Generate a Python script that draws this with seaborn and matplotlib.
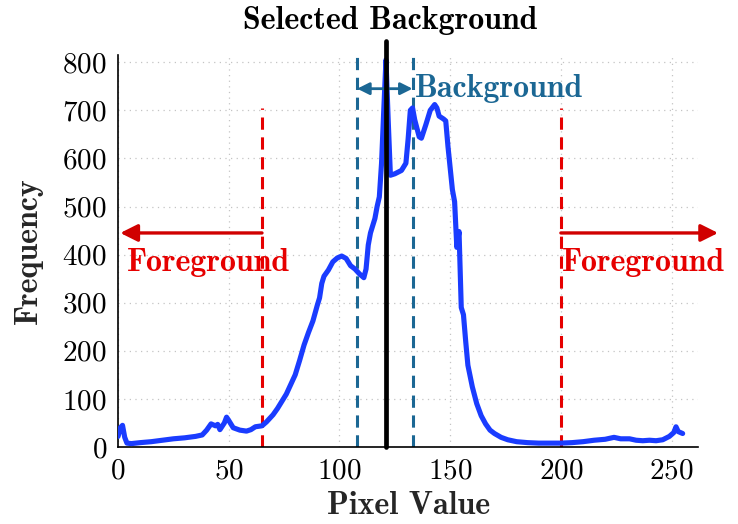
import matplotlib
matplotlib.use("Agg")
import matplotlib.pyplot as plt
import seaborn as sns
import pandas as pd

# ---- data ----
pixel_value = [0, 1, 2, 3, 4, 6, 10, 15, 20, 25, 30, 35, 38, 40, 42, 44, 45, 46, 48, 49,
               50, 52, 55, 58, 60, 62, 65, 67, 70, 72, 74, 76, 78, 80, 82, 84, 86, 88, 90, 91,
               92, 93, 95, 97, 99, 101, 103, 105, 107, 109, 111, 112, 113, 114, 116, 117, 118, 119, 120, 121,
               122, 123, 125, 128, 130, 131, 132, 133, 134, 136, 137, 139, 141, 143, 144, 145, 147, 148, 149, 150,
               151, 152, 153, 154, 155, 156, 157, 158, 160, 162, 164, 166, 168, 170, 173, 176, 180, 185, 190, 195,
               200, 205, 210, 215, 220, 224, 227, 231, 234, 237, 240, 243, 246, 249, 251, 252, 253, 255]
frequency = [22, 40, 45, 20, 8, 7, 9, 11, 14, 17, 19, 22, 25, 35, 48, 44, 47, 36, 50, 62,
             55, 40, 35, 33, 36, 42, 44, 52, 67, 80, 95, 110, 130, 150, 180, 212, 238, 262, 295, 310,
             340, 355, 368, 385, 393, 397, 392, 377, 370, 360, 352, 370, 420, 445, 475, 500, 520, 590, 700, 805,
             680, 565, 568, 575, 590, 640, 700, 705, 680, 645, 642, 670, 700, 712, 705, 688, 682, 678, 625, 580,
             535, 510, 415, 448, 290, 275, 220, 170, 125, 90, 65, 48, 35, 28, 20, 15, 11, 9, 8, 8,
             8, 9, 11, 14, 16, 20, 17, 17, 14, 13, 14, 13, 15, 22, 30, 42, 32, 28]

fg_low, fg_high = 65, 200          # foreground thresholds
bg_low, bg_high = 108, 133         # background band
selected = 121                     # selected background value
fg_arrow_left, fg_arrow_right = 1, 271
fg_arrow_y, bg_arrow_y = 445, 745
fg_line_top = 705
x_ticks = [0, 50, 100, 150, 200, 250]
y_ticks = [0, 100, 200, 300, 400, 500, 600, 700, 800]

df = pd.DataFrame({"Pixel Value": pixel_value, "Frequency": frequency})

sns.set_style("white")
plt.rcParams["font.family"] = ["cmr10", "DejaVu Serif"]
plt.rcParams["axes.formatter.use_mathtext"] = True

RED = "#e60000"
RED_ARROW = "#d00000"
TEAL = "#1b6794"
BLUE = "#1a3cff"
BOLD = "cmb10"
BSIZE = 23

fig = plt.figure(figsize=(7.38, 5.24), dpi=100)
ax = fig.add_axes([0.16, 0.147, 0.786, 0.748])

sns.lineplot(data=df, x="Pixel Value", y="Frequency", ax=ax, color=BLUE, lw=3.7,
             zorder=3, solid_joinstyle="round")

ax.set_xlim(0, 262)
ax.set_ylim(0, 815)
ax.set_xticks(x_ticks)
ax.set_yticks(y_ticks)
ax.grid(True, linestyle=(0, (1, 3.5)), color="#c4c4c4", lw=0.9)
for s in ["top", "right"]:
    ax.spines[s].set_visible(False)
for s in ["left", "bottom"]:
    ax.spines[s].set_color("black")
    ax.spines[s].set_linewidth(1.2)
ax.tick_params(direction="in", length=6, width=1, labelsize=21, pad=8, colors="black")

ax.set_xlabel("Pixel Value", fontfamily=BOLD, fontsize=BSIZE, labelpad=5)
ax.set_ylabel("Frequency", fontfamily=BOLD, fontsize=BSIZE, labelpad=14)

# foreground threshold lines
ax.plot([fg_low, fg_low], [0, fg_line_top], color=RED, lw=2.2, ls=(0, (4, 2.5)), zorder=2)
ax.plot([fg_high, fg_high], [0, fg_line_top], color=RED, lw=2.2, ls=(0, (4, 2.5)), zorder=2)
# background band lines
ax.plot([bg_low, bg_low], [0, 815], color=TEAL, lw=2.2, ls=(0, (4, 2.5)), zorder=2)
ax.plot([bg_high, bg_high], [0, 815], color=TEAL, lw=2.2, ls=(0, (4, 2.5)), zorder=2)
# selected background line
ax.plot([selected, selected], [0, 845], color="black", lw=3.4, zorder=4, clip_on=False)

# arrows
ax.annotate("", xy=(fg_arrow_left, fg_arrow_y), xytext=(fg_low, fg_arrow_y),
            arrowprops=dict(arrowstyle="-|>", color=RED_ARROW, lw=2.4, mutation_scale=26,
                            shrinkA=0, shrinkB=0), annotation_clip=False)
ax.annotate("", xy=(fg_arrow_right, fg_arrow_y), xytext=(fg_high, fg_arrow_y),
            arrowprops=dict(arrowstyle="-|>", color=RED_ARROW, lw=2.4, mutation_scale=26,
                            shrinkA=0, shrinkB=0), annotation_clip=False)
ax.annotate("", xy=(bg_low, bg_arrow_y), xytext=(bg_high, bg_arrow_y),
            arrowprops=dict(arrowstyle="<|-|>", color=TEAL, lw=2.0, mutation_scale=18,
                            shrinkA=0, shrinkB=0), annotation_clip=False)

# texts
ax.text(4, 383, "Foreground", color=RED, fontfamily=BOLD, fontsize=BSIZE, va="center", ha="left")
ax.text(200.5, 383, "Foreground", color=RED, fontfamily=BOLD, fontsize=BSIZE, va="center", ha="left")
ax.text(134, bg_arrow_y, "Background", color=TEAL, fontfamily=BOLD, fontsize=BSIZE, va="center", ha="left")
ax.text(selected + 2, 887, "Selected Background", color="black", fontfamily=BOLD, fontsize=BSIZE,
        va="center", ha="center", clip_on=False)

fig.savefig("out.png", dpi=100)
